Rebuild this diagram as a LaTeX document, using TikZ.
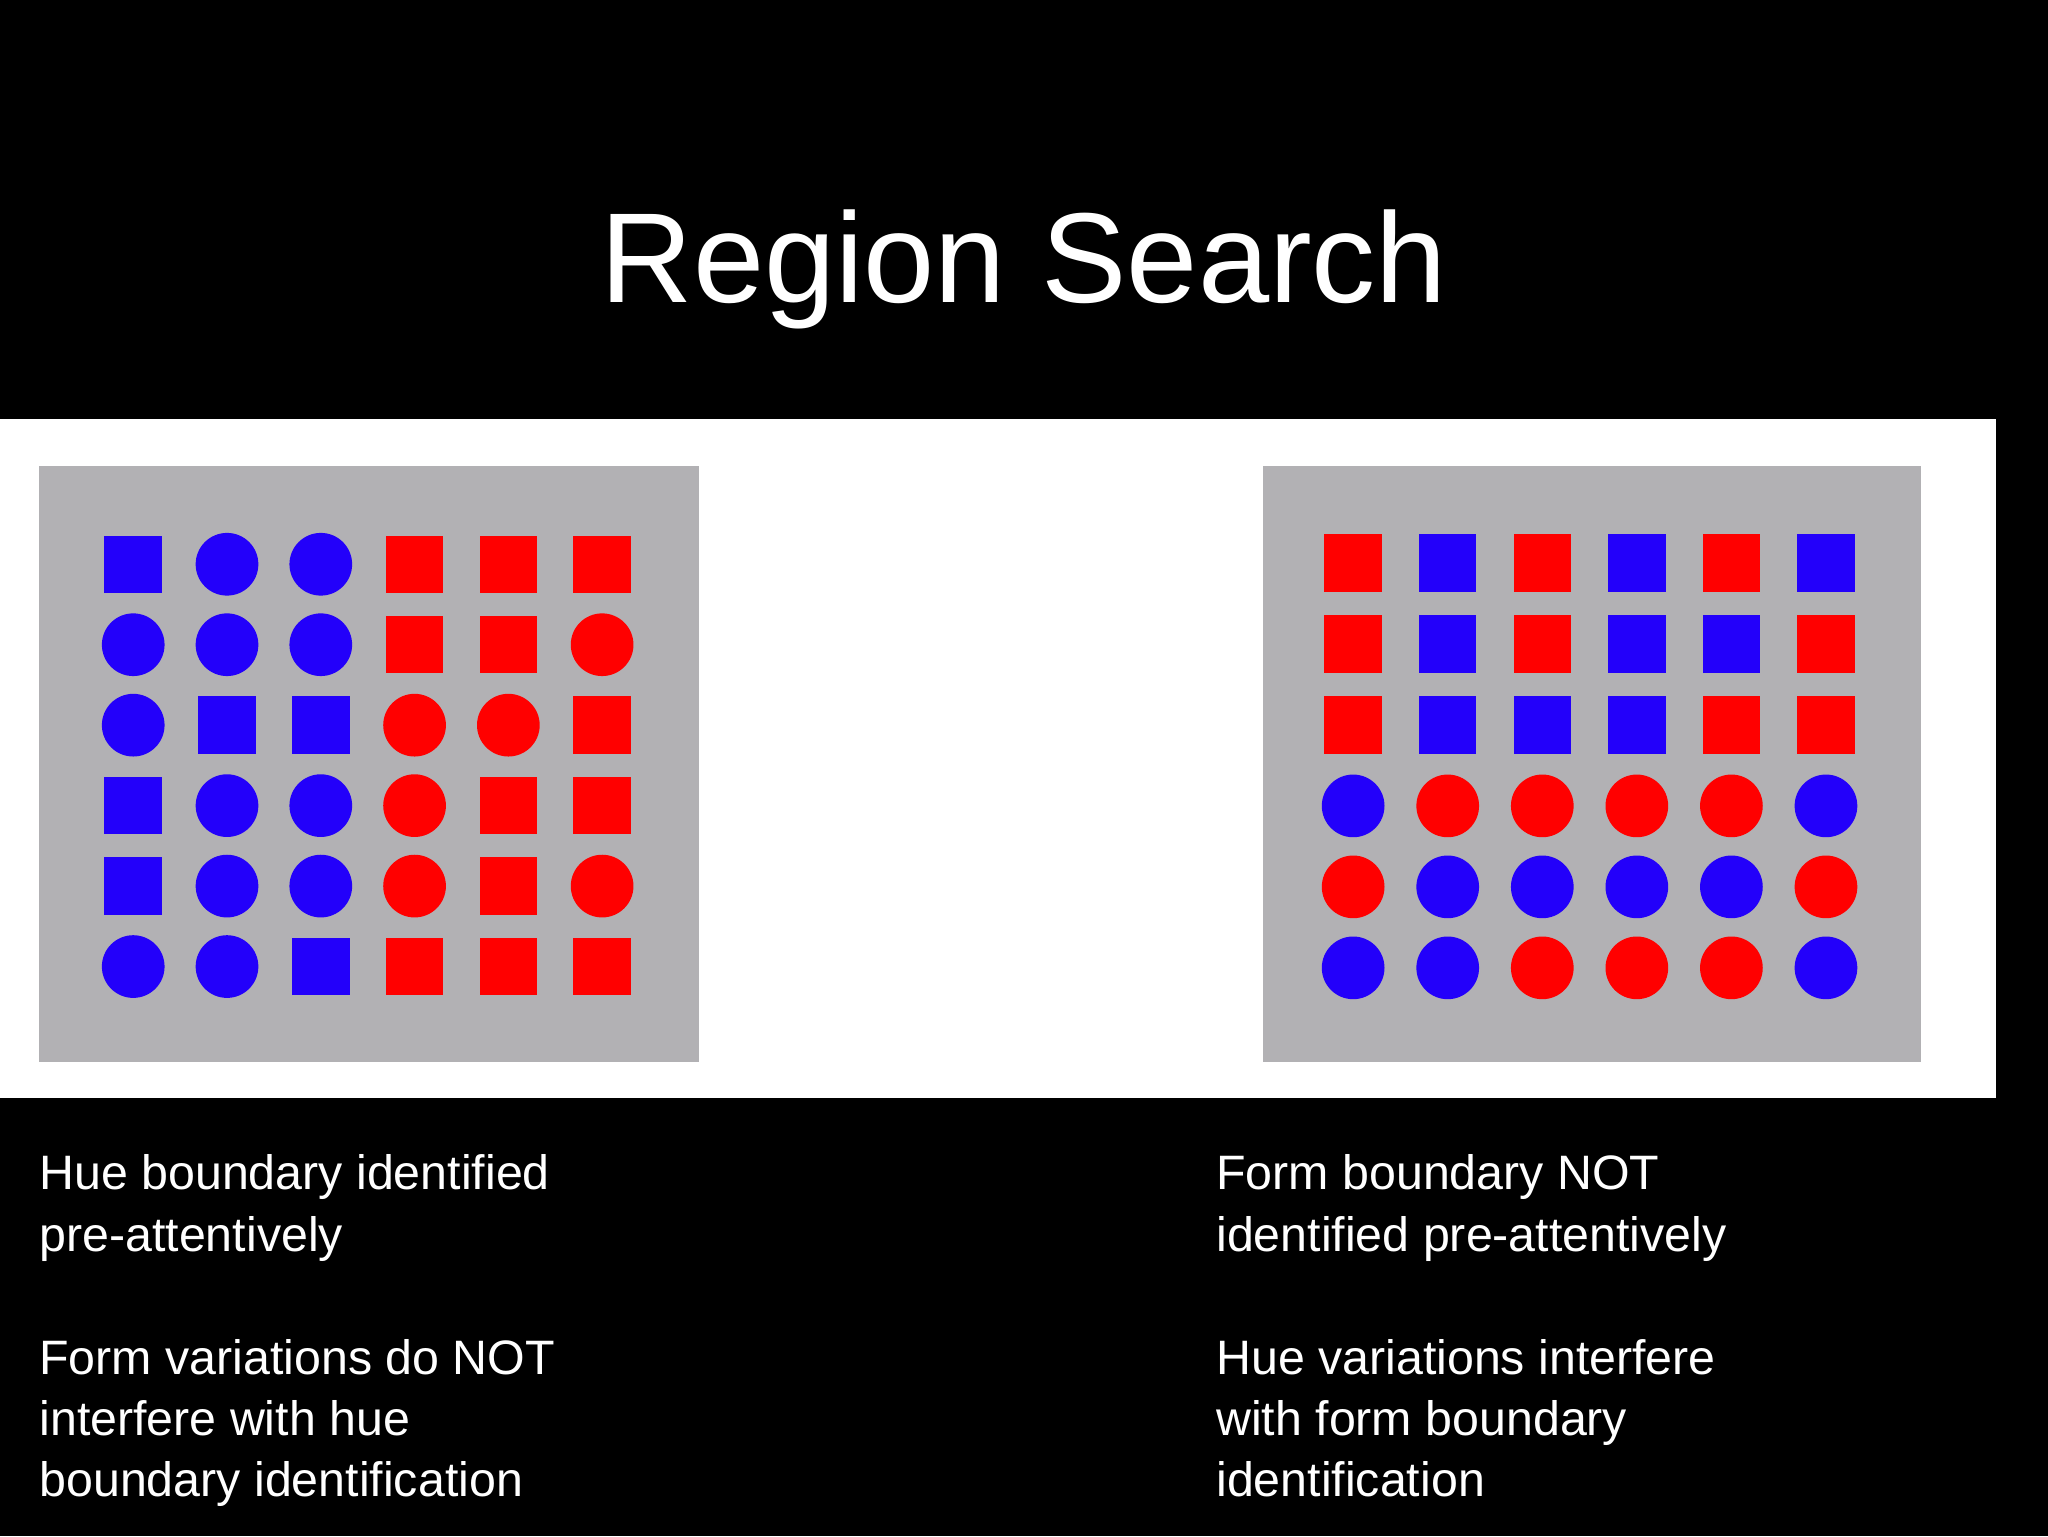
\documentclass[tikz,border=0pt]{standalone}
\usepackage{fontspec}
\setmainfont{Liberation Sans}
\definecolor{bb}{RGB}{35,0,250}
\definecolor{rr}{RGB}{255,0,0}
\definecolor{gp}{RGB}{178,177,180}
\begin{document}
\begin{tikzpicture}[x=1pt,y=-1pt,
  sq/.style={fill=#1,minimum size=44pt,inner sep=0pt,draw=none},
  ci/.style={circle,fill=#1,minimum size=48pt,inner sep=0pt,draw=none},
  txt/.style={anchor=north west,align=left,text=white,font=\fontsize{37}{47}\selectfont,inner sep=0pt}]
\useasboundingbox (0,0) rectangle (1568,1176);
\fill[black] (0,0) rectangle (1568,1176);
\fill[white] (0,321) rectangle (1528,841);
\fill[gp] (30,357) rectangle (535,813);
\fill[gp] (967,357) rectangle (1471,813);
\node[text=white,font=\fontsize{98}{110}\selectfont] (title) at (784,206) {Region Search};
% left grid
\foreach \row [count=\r] in {
 {S/bb,C/bb,C/bb,S/rr,S/rr,S/rr},
 {C/bb,C/bb,C/bb,S/rr,S/rr,C/rr},
 {C/bb,S/bb,S/bb,C/rr,C/rr,S/rr},
 {S/bb,C/bb,C/bb,C/rr,S/rr,S/rr},
 {S/bb,C/bb,C/bb,C/rr,S/rr,C/rr},
 {C/bb,C/bb,S/bb,S/rr,S/rr,S/rr}}{
 \foreach \s/\c [count=\k] in \row {
  \pgfmathsetmacro\xx{102+71.8*(\k-1)}
  \pgfmathsetmacro\yy{432+61.6*(\r-1)}
  \if\s S\node[sq=\c] (L\r\k) at (\xx,\yy) {};\else\node[ci=\c] (L\r\k) at (\xx,\yy) {};\fi
 }}
% right grid
\foreach \row [count=\r] in {
 {S/rr,S/bb,S/rr,S/bb,S/rr,S/bb},
 {S/rr,S/bb,S/rr,S/bb,S/bb,S/rr},
 {S/rr,S/bb,S/bb,S/bb,S/rr,S/rr},
 {C/bb,C/rr,C/rr,C/rr,C/rr,C/bb},
 {C/rr,C/bb,C/bb,C/bb,C/bb,C/rr},
 {C/bb,C/bb,C/rr,C/rr,C/rr,C/bb}}{
 \foreach \s/\c [count=\k] in \row {
  \pgfmathsetmacro\xx{1036+72.4*(\k-1)}
  \pgfmathsetmacro\yy{431+62*(\r-1)}
  \if\s S\node[sq=\c] (R\r\k) at (\xx,\yy) {};\else\node[ci=\c] (R\r\k) at (\xx,\yy) {};\fi
 }}
\node[txt] (t1) at (30,884) {Hue boundary identified\\pre-attentively\\[47pt]Form variations do NOT\\interfere with hue\\boundary identification};
\node[txt] (t2) at (931,884) {Form boundary NOT\\identified pre-attentively\\[47pt]Hue variations interfere\\with form boundary\\identification};
\end{tikzpicture}
\end{document}
